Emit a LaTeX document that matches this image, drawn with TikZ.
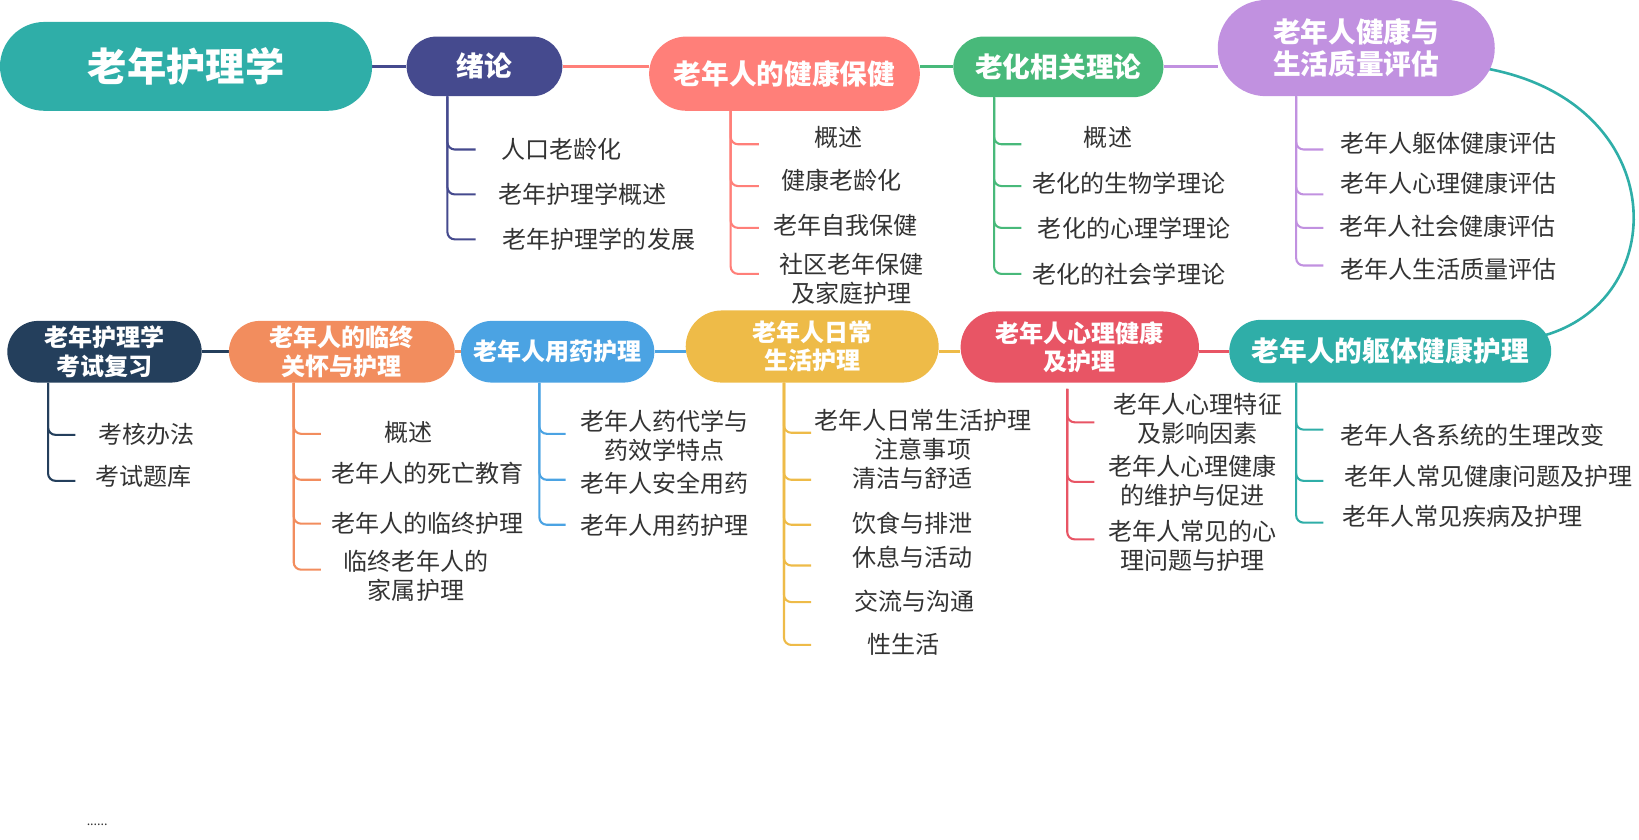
\documentclass[tikz,border=0pt]{standalone}
\usepackage{fontspec}
\setmainfont{Noto Sans CJK SC}
\usepackage{tikz}
\usepackage{xcolor}
\usetikzlibrary{shapes.misc,backgrounds}

\definecolor{tealc}{HTML}{2FAEA8}
\definecolor{indigoc}{HTML}{454A8E}
\definecolor{salmonc}{HTML}{FF7F79}
\definecolor{greenc}{HTML}{48B97A}
\definecolor{purplec}{HTML}{C191E0}
\definecolor{redc}{HTML}{E85565}
\definecolor{yellowc}{HTML}{EEBB48}
\definecolor{bluec}{HTML}{4BA3E3}
\definecolor{orangec}{HTML}{F28D5E}
\definecolor{navyc}{HTML}{243F5C}
\definecolor{txtc}{HTML}{333333}

\tikzset{
  pill/.style={rounded rectangle, inner sep=0pt, text=white, align=center,
    font=\bfseries\fontsize{26.5}{31}\selectfont},
  small pill/.style={pill, font=\bfseries\fontsize{23}{27}\selectfont},
  item/.style={inner sep=0pt, text=txtc, align=center,
    font=\fontsize{23}{27.5}\selectfont},
  link/.style={line width=3pt},
  br/.style={line width=2pt, rounded corners=7pt},
}

\begin{document}
\begin{tikzpicture}[x=1pt,y=-1pt]
    \useasboundingbox (0,0) rectangle (1568,803);

    % Top row
    \node[pill, fill=tealc, minimum width=356, minimum height=85,
      font=\bfseries\fontsize{37.6}{40}\selectfont] (root) at (178,63.5) {老年护理学};
    \node[pill, fill=indigoc, minimum width=149, minimum height=57] (xl) at (463.5,63.5) {绪论};
    \node[pill, fill=salmonc, minimum width=259, minimum height=71] (jk) at (750.5,70.5) {老年人的健康保健};
    \node[pill, fill=greenc, minimum width=201, minimum height=58] (lh) at (1012.5,64) {老化相关理论};
    \node[pill, fill=purplec, minimum width=265, minimum height=92] (pg) at (1297.5,46) {老年人健康与\\生活质量评估};

    % Bottom row
    \node[pill, fill=tealc, minimum width=308, minimum height=60] (qt) at (1330,336) {老年人的躯体健康护理};
    \node[small pill, fill=redc, minimum width=228, minimum height=68] (xn) at (1033,332) {老年人心理健康\\及护理};
    \node[small pill, fill=yellowc, minimum width=242, minimum height=69] (rc) at (777,331.5) {老年人日常\\生活护理};
    \node[small pill, fill=bluec, minimum width=185, minimum height=59] (yy) at (533.5,336.5) {老年人用药护理};
    \node[small pill, fill=orangec, minimum width=216, minimum height=59] (lz) at (327,336.5) {老年人的临终\\关怀与护理};
    \node[small pill, fill=navyc, minimum width=186, minimum height=59] (ks) at (100,336.5) {老年护理学\\考试复习};

    % Sub topics: 绪论
    \node[item] (xl1) at (537,143) {人口老龄化};
    \node[item] (xl2) at (557,186) {老年护理学概述};
    \node[item] (xl3) at (573,229) {老年护理学的发展};

    % Sub topics: 健康保健
    \node[item] (jk1) at (802,131) {概述};
    \node[item] (jk2) at (805,172) {健康老龄化};
    \node[item] (jk3) at (809,216) {老年自我保健};
    \node[item] (jk4) at (815,267) {社区老年保健\\及家庭护理};

    % Sub topics: 老化相关理论
    \node[item] (lh1) at (1060,131) {概述};
    \node[item] (lh2) at (1080,175) {老化的生物学理论};
    \node[item] (lh3) at (1085,218) {老化的心理学理论};
    \node[item] (lh4) at (1080,262) {老化的社会学理论};

    % Sub topics: 评估
    \node[item] (pg1) at (1385.5,137) {老年人躯体健康评估};
    \node[item] (pg2) at (1385.5,175) {老年人心理健康评估};
    \node[item] (pg3) at (1384.5,216) {老年人社会健康评估};
    \node[item] (pg4) at (1385.5,258) {老年人生活质量评估};

    % Sub topics: 考试复习
    \node[item] (ks1) at (140,416) {考核办法};
    \node[item] (ks2) at (137,456) {考试题库};

    % Sub topics: 临终关怀
    \node[item] (lz1) at (391,414) {概述};
    \node[item] (lz2) at (409,453) {老年人的死亡教育};
    \node[item] (lz3) at (409,501) {老年人的临终护理};
    \node[item] (lz4) at (398,551) {临终老年人的\\家属护理};

    % Sub topics: 用药护理
    \node[item] (yy1) at (636,417) {老年人药代学与\\药效学特点};
    \node[item] (yy2) at (636,462) {老年人安全用药};
    \node[item] (yy3) at (636,503) {老年人用药护理};

    % Sub topics: 日常生活护理
    \node[item] (rc1) at (883,416) {老年人日常生活护理\\注意事项};
    \node[item] (rc2) at (873,458) {清洁与舒适};
    \node[item] (rc3) at (873,501) {饮食与排泄};
    \node[item] (rc4) at (873,533) {休息与活动};
    \node[item] (rc5) at (875,575) {交流与沟通};
    \node[item] (rc6) at (864,616) {性生活};

    % Sub topics: 心理健康
    \node[item] (xn1) at (1146,401) {老年人心理特征\\及影响因素};
    \node[item] (xn2) at (1141,460) {老年人心理健康\\的维护与促进};
    \node[item] (xn3) at (1141,522) {老年人常见的心\\理问题与护理};

    % Sub topics: 躯体健康
    \node[item] (qt1) at (1408.5,416) {老年人各系统的生理改变};
    \node[item] (qt2) at (1424,456) {老年人常见健康问题及护理};
    \node[item] (qt3) at (1399,494) {老年人常见疾病及护理};

    \node[text=txtc, font=\fontsize{12}{13}\selectfont] (more) at (93,789) {......};

    \begin{pgfonlayer}{background}
    % Main chain
    \draw[link, indigoc] (root.east) -- (root.east -| xl.west);
    \draw[link, salmonc] (xl.east) -- (xl.east -| jk.west);
    \draw[link, greenc] (jk.east |- lh.west) -- (lh.west);
    \draw[link, purplec] (lh.east) -- (lh.east -| pg.west);
    \draw[line width=2.5pt, tealc] ([shift={(-6,20)}]pg.east)
      .. controls (1600,100) and (1600,290) .. ([shift={(-11,-14)}]qt.east);
    \draw[link, redc] (qt.west) -- (qt.west -| xn.east);
    \draw[link, yellowc] (xn.west |- qt.west) -- (rc.east |- qt.west);
    \draw[link, bluec] (rc.west |- yy.east) -- (yy.east);
    \draw[link, orangec] (yy.west) -- (yy.west -| lz.east);
    \draw[link, navyc] (lz.west) -- (lz.west -| ks.east);
    \end{pgfonlayer}

    % Branch lines
    \coordinate (xlv) at (428,0 |- xl.south);
    \coordinate (jkv) at (699,0 |- jk.south);
    \coordinate (lhv) at (951,0 |- lh.south);
    \coordinate (pgv) at (1240,0 |- pg.south);
    \coordinate (ksv) at (46,0 |- ks.south);
    \coordinate (lzv) at (281,0 |- lz.south);
    \coordinate (yyv) at (516,0 |- yy.south);
    \coordinate (rcv) at (750,0 |- rc.south);
    \coordinate (xnv) at (1021,372);
    \coordinate (qtv) at (1240,0 |- qt.south);

    \draw[br, indigoc] (xlv) |- (455,143);
    \draw[br, indigoc] (xlv) |- (455,186);
    \draw[br, indigoc] (xlv) |- (455,229);

    \draw[br, salmonc] (jkv) |- (726,138);
    \draw[br, salmonc] (jkv) |- (726,178);
    \draw[br, salmonc] (jkv) |- (726,218);
    \draw[br, salmonc] (jkv) |- (726,262);

    \draw[br, greenc] (lhv) |- (977,138);
    \draw[br, greenc] (lhv) |- (977,178);
    \draw[br, greenc] (lhv) |- (977,218);
    \draw[br, greenc] (lhv) |- (977,262);

    \draw[br, purplec] (pgv) |- (1266,143);
    \draw[br, purplec] (pgv) |- (1266,186);
    \draw[br, purplec] (pgv) |- (1266,218);
    \draw[br, purplec] (pgv) |- (1266,254);

    \draw[br, navyc] (ksv) |- (72,416);
    \draw[br, navyc] (ksv) |- (72,460);

    \draw[br, orangec] (lzv) |- (307,415);
    \draw[br, orangec] (lzv) |- (307,459);
    \draw[br, orangec] (lzv) |- (307,501);
    \draw[br, orangec] (lzv) |- (307,545);

    \draw[br, bluec] (yyv) |- (541,415);
    \draw[br, bluec] (yyv) |- (541,459);
    \draw[br, bluec] (yyv) |- (541,502);

    \draw[br, yellowc] (rcv) |- (776,414);
    \draw[br, yellowc] (rcv) |- (776,459);
    \draw[br, yellowc] (rcv) |- (776,502);
    \draw[br, yellowc] (rcv) |- (776,541);
    \draw[br, yellowc] (rcv) |- (776,576);
    \draw[br, yellowc] (rcv) |- (776,617);

    \draw[br, redc] (xnv) |- (1047,404);
    \draw[br, redc] (xnv) |- (1047,461);
    \draw[br, redc] (xnv) |- (1047,516);

    \draw[br, tealc] (qtv) |- (1266,411);
    \draw[br, tealc] (qtv) |- (1266,460);
    \draw[br, tealc] (qtv) |- (1266,500);
\end{tikzpicture}
\end{document}
